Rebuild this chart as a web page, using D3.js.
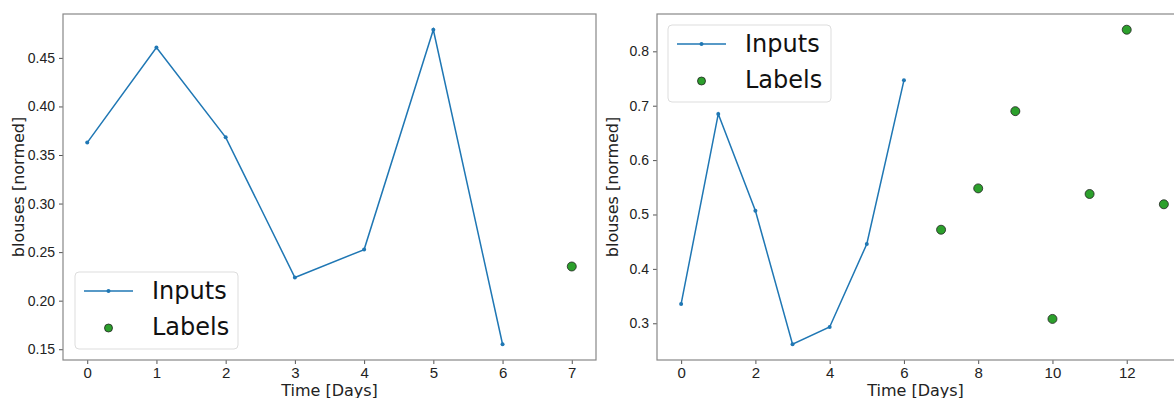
<!DOCTYPE html>
<html>
<head>
<meta charset="utf-8">
<script src="https://cdn.jsdelivr.net/npm/d3@7"></script>
<style>
  body { margin: 0; background: #fff; }
  svg { display: block; font-family: "DejaVu Sans", sans-serif; }
</style>
</head>
<body>
<script>
// left panel
var leftInputs = [0.3628, 0.4606, 0.3682, 0.2239, 0.2526, 0.4790, 0.1551]
var leftLabels = [0.2352]
var leftYTicks = [0.15, 0.20, 0.25, 0.30, 0.35, 0.40, 0.45]
var leftXTicks = [0, 1, 2, 3, 4, 5, 6, 7]

// right panel
var rightInputs = [0.3355, 0.6848, 0.5070, 0.2614, 0.2932, 0.4458, 0.7467]
var rightLabels = [0.472, 0.548, 0.690, 0.308, 0.5377, 0.8397, 0.5188]
var rightYTicks = [0.3, 0.4, 0.5, 0.6, 0.7, 0.8]
var rightXTicks = [0, 2, 4, 6, 8, 10, 12]

var W = 1174, H = 398

var svg = d3.select("body").append("svg")
    .attr("width", W)
    .attr("height", H)

function panel(opts) {
  var inputs = opts.inputs, labels = opts.labels
  var nIn = inputs.length
  var all = inputs.concat(labels)
  var xMax = all.length - 1
  var yMin = d3.min(all), yMax = d3.max(all)
  var xPad = xMax * 0.05, yPad = (yMax - yMin) * 0.05

  var x = d3.scaleLinear().domain([-xPad, xMax + xPad]).range([opts.left, opts.right])
  var y = d3.scaleLinear().domain([yMin - yPad, yMax + yPad]).range([opts.bottom, opts.top])

  var g = svg.append("g")

  // axes
  g.append("g")
      .attr("transform", "translate(0," + opts.bottom + ")")
      .call(d3.axisBottom(x).tickValues(opts.xTicks).tickSize(4).tickPadding(3).tickFormat(d3.format("d")))
      .call(function(a) {
        a.select(".domain").remove()
        a.selectAll("line").attr("stroke", "#555")
        a.selectAll("text").attr("font-size", 15).attr("fill", "#222")
      })

  g.append("g")
      .attr("transform", "translate(" + opts.left + ",0)")
      .call(d3.axisLeft(y).tickValues(opts.yTicks).tickSize(4).tickPadding(4).tickFormat(d3.format(opts.yFmt)))
      .call(function(a) {
        a.select(".domain").remove()
        a.selectAll("line").attr("stroke", "#555")
        a.selectAll("text").attr("font-size", 14).attr("fill", "#222")
      })

  // frame
  g.append("rect")
      .attr("x", opts.left).attr("y", opts.top)
      .attr("width", opts.right - opts.left).attr("height", opts.bottom - opts.top)
      .attr("fill", "none").attr("stroke", "#888").attr("stroke-width", 1.2)

  var idx = d3.range(nIn)
  var line = d3.line().x(function(i) { return x(i) }).y(function(i) { return y(inputs[i]) })

  g.append("path")
      .datum(idx)
      .attr("d", line)
      .attr("fill", "none")
      .attr("stroke", "#1f77b4")
      .attr("stroke-width", 1.5)

  g.selectAll(".in-dot")
      .data(idx)
    .enter().append("circle")
      .attr("class", "in-dot")
      .attr("cx", function(i) { return x(i) })
      .attr("cy", function(i) { return y(inputs[i]) })
      .attr("r", 2)
      .attr("fill", "#1f77b4")

  g.selectAll(".lab-dot")
      .data(labels)
    .enter().append("circle")
      .attr("class", "lab-dot")
      .attr("cx", function(d, i) { return x(nIn + i) })
      .attr("cy", function(d) { return y(d) })
      .attr("r", 4.5)
      .attr("fill", "#2ca02c")
      .attr("stroke", "#222")
      .attr("stroke-width", 0.8)

  // axis titles
  g.append("text")
      .attr("x", (opts.left + Math.min(opts.right, W)) / 2)
      .attr("y", 396)
      .attr("text-anchor", "middle")
      .attr("font-size", 16)
      .attr("fill", "#222")
      .text("Time [Days]")

  g.append("text")
      .attr("transform", "translate(" + opts.yLabelX + "," + (opts.top + opts.bottom) / 2 + ") rotate(-90)")
      .attr("text-anchor", "middle")
      .attr("font-size", 16)
      .attr("fill", "#222")
      .text("blouses [normed]")

  // legend
  var L = opts.legend
  var lg = g.append("g").attr("transform", "translate(" + L.x + "," + L.y + ")")
  lg.append("rect")
      .attr("width", 163).attr("height", 77).attr("rx", 4)
      .attr("fill", "#fff").attr("fill-opacity", 0.8)
      .attr("stroke", "#ddd")
  lg.append("line")
      .attr("x1", 9).attr("x2", 58).attr("y1", 19).attr("y2", 19)
      .attr("stroke", "#1f77b4").attr("stroke-width", 1.5)
  lg.append("circle").attr("cx", 33.5).attr("cy", 19).attr("r", 2).attr("fill", "#1f77b4")
  lg.append("circle").attr("cx", 33.5).attr("cy", 56).attr("r", 4)
      .attr("fill", "#2ca02c").attr("stroke", "#222").attr("stroke-width", 0.8)
  lg.selectAll(".lt")
      .data(["Inputs", "Labels"])
    .enter().append("text")
      .attr("class", "lt")
      .attr("x", 77)
      .attr("y", function(d, i) { return 27 + i * 36 })
      .attr("font-size", 24)
      .attr("fill", "#111")
      .text(function(d) { return d })
}

panel({
  inputs: leftInputs, labels: leftLabels,
  xTicks: leftXTicks, yTicks: leftYTicks, yFmt: ".2f",
  left: 63, right: 596, top: 14, bottom: 360,
  yLabelX: 24,
  legend: {x: 75, y: 272}
})

panel({
  inputs: rightInputs, labels: rightLabels,
  xTicks: rightXTicks, yTicks: rightYTicks, yFmt: ".1f",
  left: 657, right: 1188, top: 14, bottom: 360,
  yLabelX: 618,
  legend: {x: 668, y: 25}
})
</script>
</body>
</html>
